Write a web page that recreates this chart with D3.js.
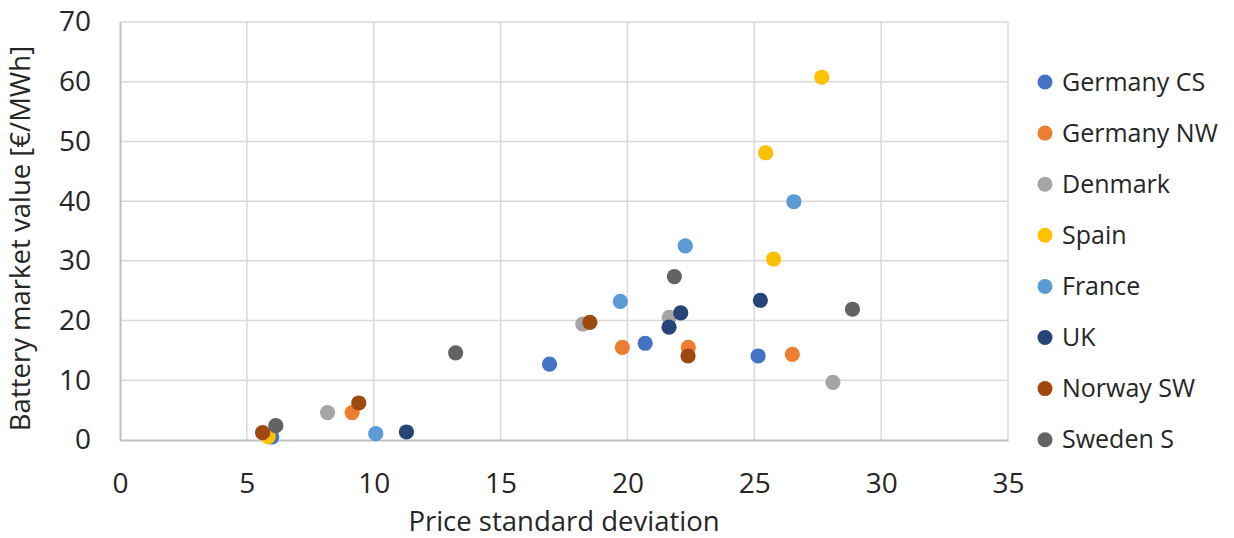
<!DOCTYPE html>
<html>
<head>
<meta charset="utf-8">
<script src="https://cdn.jsdelivr.net/npm/d3@7"></script>
<style>
  html, body { margin: 0; padding: 0; background: #fff; }
  svg { display: block; font-family: "Open Sans", "Noto Sans", sans-serif; }
</style>
</head>
<body>
<svg id="chart" width="1234" height="538"></svg>
<script>
// Series names and colours, in drawing order
const seriesNames = ["Germany CS", "Germany NW", "Denmark", "Spain", "France", "UK", "Norway SW", "Sweden S"];
const seriesColors = ["#4472C4", "#ED7D31", "#A5A5A5", "#FFC000", "#5B9BD5", "#264478", "#9E480E", "#636363"];

// Price standard deviation (x) per series
const xGermanyCS = [5.98, 16.93, 20.7, 25.15];
const xGermanyNW = [9.15, 19.8, 22.4, 26.5];
const xDenmark   = [8.18, 18.24, 21.65, 28.1];
const xSpain     = [5.84, 27.66, 25.45, 25.76];
const xFrance    = [10.08, 19.72, 22.28, 26.56];
const xUK        = [11.29, 21.64, 22.1, 25.24];
const xNorwaySW  = [5.62, 9.41, 18.52, 22.39];
const xSwedenS   = [6.14, 13.23, 21.85, 28.87];

// Battery market value [€/MWh] (y) per series
const yGermanyCS = [0.5, 12.7, 16.2, 14.07];
const yGermanyNW = [4.6, 15.5, 15.5, 14.35];
const yDenmark   = [4.6, 19.4, 20.55, 9.66];
const ySpain     = [0.55, 60.75, 48.1, 30.3];
const yFrance    = [1.06, 23.2, 32.5, 39.9];
const yUK        = [1.34, 18.9, 21.3, 23.4];
const yNorwaySW  = [1.23, 6.2, 19.7, 14.07];
const ySwedenS   = [2.4, 14.6, 27.36, 21.9];

const xTicks = [0, 5, 10, 15, 20, 25, 30, 35];
const yTicks = [0, 10, 20, 30, 40, 50, 60, 70];

const xValues = [xGermanyCS, xGermanyNW, xDenmark, xSpain, xFrance, xUK, xNorwaySW, xSwedenS];
const yValues = [yGermanyCS, yGermanyNW, yDenmark, ySpain, yFrance, yUK, yNorwaySW, ySwedenS];

const series = seriesNames.map((name, i) => ({
  name,
  color: seriesColors[i],
  points: xValues[i].map((x, j) => ({ x, y: yValues[i][j] }))
}));

const svg = d3.select("#chart");
const plot = { left: 120, right: 1008, top: 22, bottom: 440 };

const x = d3.scaleLinear().domain([0, 35]).range([plot.left, plot.right]);
const y = d3.scaleLinear().domain([0, 70]).range([plot.bottom, plot.top]);

const textColor = "#262626";

// Gridlines
const grid = svg.append("g");
grid.selectAll("line.vx").data(xTicks.slice(1)).join("line")
  .attr("x1", d => x(d)).attr("x2", d => x(d))
  .attr("y1", plot.top).attr("y2", plot.bottom)
  .attr("stroke", "#d9d9d9").attr("stroke-width", 1.5);
grid.selectAll("line.hy").data(yTicks.slice(1)).join("line")
  .attr("x1", plot.left).attr("x2", plot.right)
  .attr("y1", d => y(d)).attr("y2", d => y(d))
  .attr("stroke", "#d9d9d9").attr("stroke-width", 1.5);

// Axes: domain lines plus tick labels
const xAxis = svg.append("g")
  .attr("transform", `translate(0,${plot.bottom})`)
  .call(d3.axisBottom(x).tickValues(xTicks).tickSize(0).tickPadding(33));
const yAxis = svg.append("g")
  .attr("transform", `translate(${plot.left},0)`)
  .call(d3.axisLeft(y).tickValues(yTicks).tickSize(0).tickPadding(29));

[xAxis, yAxis].forEach(a => {
  a.select(".domain").attr("stroke", "#bfbfbf").attr("stroke-width", 2);
  a.selectAll("text").attr("fill", textColor).style("font-size", "28px")
    .style("font-family", "'Open Sans', 'Noto Sans', sans-serif");
});

// Points
series.forEach(s => {
  svg.append("g").selectAll("circle").data(s.points).join("circle")
    .attr("cx", d => x(d.x)).attr("cy", d => y(d.y))
    .attr("r", 7.6).attr("fill", s.color);
});

// Axis titles
svg.append("text")
  .attr("x", 564).attr("y", 531)
  .attr("text-anchor", "middle").attr("fill", textColor)
  .style("font-size", "27.5px").text("Price standard deviation");

svg.append("text")
  .attr("transform", "translate(30,238.5) rotate(-90)")
  .attr("text-anchor", "middle").attr("fill", textColor)
  .style("font-size", "27.5px").text("Battery market value [€/MWh]");

// Legend
const legend = svg.append("g");
const rows = legend.selectAll("g").data(series).join("g")
  .attr("transform", (d, i) => `translate(1045,${82 + i * 51.1})`);
rows.append("circle").attr("r", 7.5).attr("fill", d => d.color);
rows.append("text").attr("x", 17).attr("dy", "0.35em")
  .attr("fill", textColor).style("font-size", "25px").text(d => d.name);
</script>
</body>
</html>
